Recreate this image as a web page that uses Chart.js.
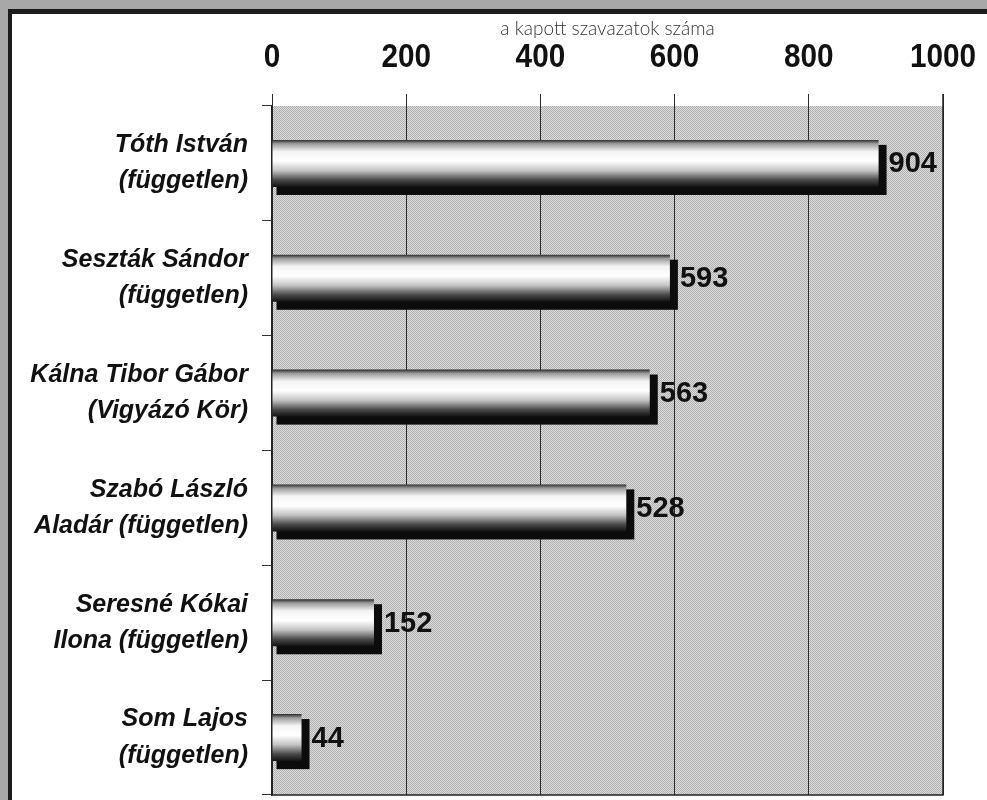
<!DOCTYPE html>
<html>
<head>
<meta charset="utf-8">
<script src="https://cdn.jsdelivr.net/npm/chart.js@4.4.1/dist/chart.umd.min.js"></script>
<style>
  html, body { margin: 0; padding: 0; }
  body { width: 987px; height: 800px; background: #a8a8a8; position: relative; overflow: hidden; }
  #frame {
    position: absolute; left: 8px; top: 9px; width: 979px; height: 791px;
    background: #fff; border-left: 4px solid #1c1c1c; border-top: 5px solid #1c1c1c;
    box-sizing: border-box;
  }
  #wrap { position: absolute; left: 0; top: 0; width: 987px; height: 800px; }
</style>
</head>
<body>
<div id="frame"></div>
<div id="wrap"><canvas id="chart" width="987" height="800"></canvas></div>
<script>
// candidates and votes
const candidates = [
    ["Tóth István", "(független)"],
    ["Seszták Sándor", "(független)"],
    ["Kálna Tibor Gábor", "(Vigyázó Kör)"],
    ["Szabó László", "Aladár (független)"],
    ["Seresné Kókai", "Ilona (független)"],
    ["Som Lajos", "(független)"]
];
const votes = [904, 593, 563, 528, 152, 44];
const xTicks = [0, 200, 400, 600, 800, 1000];
const axisTitle = "a kapott szavazatok száma";

const BAR_PCT = 0.41;

// halftone-like pattern for the plot background
function makePattern(ctx) {
    const p = document.createElement("canvas");
    p.width = 2; p.height = 2;
    const c = p.getContext("2d");
    c.fillStyle = "#dcdcdc"; c.fillRect(0, 0, 2, 2);
    c.fillStyle = "#b0b0b0"; c.fillRect(0, 0, 1, 1); c.fillRect(1, 1, 1, 1);
    return ctx.createPattern(p, "repeat");
}

// cylinder look: dark edges, white middle
function barGradient(c) {
    const chart = c.chart;
    const y = chart.scales.y;
    if (!y || c.dataIndex === undefined) return "#ddd";
    const center = y.getPixelForValue(c.dataIndex);
    const h = (y.bottom - y.top) / candidates.length * BAR_PCT;
    if (!isFinite(center) || !isFinite(h) || h <= 0) return "#ddd";
    const g = chart.ctx.createLinearGradient(0, center - h / 2, 0, center + h / 2);
    g.addColorStop(0, "#2a2a2a");
    g.addColorStop(0.08, "#9a9a9a");
    g.addColorStop(0.25, "#f4f4f4");
    g.addColorStop(0.45, "#ffffff");
    g.addColorStop(0.65, "#c4c4c4");
    g.addColorStop(0.85, "#4a4a4a");
    g.addColorStop(1, "#111");
    return g;
}

const decorPlugin = {
    id: "decor",
    beforeDraw(chart) {
        const { ctx, chartArea: a } = chart;
        ctx.save();
        ctx.fillStyle = makePattern(ctx);
        ctx.fillRect(a.left, a.top, a.right - a.left, a.bottom - a.top);
        ctx.restore();
    },
    beforeDatasetsDraw(chart) {
        // dark shadow / depth behind every bar
        const ctx = chart.ctx;
        const meta = chart.getDatasetMeta(0);
        ctx.save();
        ctx.fillStyle = "#0c0c0c";
        meta.data.forEach(el => {
            const { x, y, base, height } = el.getProps(["x", "y", "base", "height"], true);
            ctx.fillRect(base + 4, y - height / 2 + 5, x - base + 4, height + 3);
        });
        ctx.restore();
    },
    afterDatasetsDraw(chart) {
        const ctx = chart.ctx;
        const meta = chart.getDatasetMeta(0);
        ctx.save();
        ctx.fillStyle = "#111";
        ctx.font = "bold 29px 'Liberation Sans', Arial, sans-serif";
        ctx.textBaseline = "middle";
        ctx.textAlign = "left";
        meta.data.forEach((el, i) => {
            const { x, y } = el.getProps(["x", "y"], true);
            ctx.fillText(votes[i], x + 10, y + 1);
        });
        // bottom and right border of plot
        const a = chart.chartArea;
        ctx.strokeStyle = "#222";
        ctx.lineWidth = 1.5;
        ctx.beginPath();
        ctx.moveTo(a.left, a.bottom);
        ctx.lineTo(a.right, a.bottom);
        ctx.lineTo(a.right, a.top - 12);
        ctx.stroke();
        ctx.restore();
    },
    afterDraw(chart) {
        // condensed bold tick labels on the top axis
        const ctx = chart.ctx;
        const sx = chart.scales.x;
        ctx.save();
        ctx.fillStyle = "#111";
        ctx.font = "bold 33px 'Liberation Sans', Arial, sans-serif";
        ctx.textAlign = "center";
        ctx.textBaseline = "alphabetic";
        sx.ticks.forEach((t, i) => {
            const px = sx.getPixelForTick(i);
            ctx.save();
            ctx.translate(px, 67);
            ctx.scale(0.9, 1);
            ctx.fillText(String(t.value), 0, 0);
            ctx.restore();
        });
        ctx.restore();
    }
};

const chart = new Chart(document.getElementById("chart"), {
    type: "bar",
    data: {
        labels: candidates,
        datasets: [{
            data: votes,
            backgroundColor: barGradient,
            borderWidth: 0,
            categoryPercentage: 1,
            barPercentage: BAR_PCT
        }]
    },
    options: {
        indexAxis: "y",
        responsive: false,
        animation: false,
        layout: { padding: { left: 0, right: 44, top: 0, bottom: 5 } },
        plugins: {
            legend: { display: false },
            tooltip: { enabled: false }
        },
        scales: {
            x: {
                position: "top",
                min: 0,
                max: 1000,
                afterBuildTicks: (s) => { s.ticks = xTicks.map(v => ({ value: v })); },
                afterFit: (s) => { s.height = 106; s.paddingLeft = 0; s.paddingRight = 0; },
                ticks: { display: false },
                grid: { color: "#2a2a2a", lineWidth: 1, tickLength: 12 },
                border: { display: false },
                title: {
                    display: true,
                    text: axisTitle,
                    color: "#333",
                    font: { family: "Lato, 'Open Sans', sans-serif", size: 19, weight: "300" },
                    padding: { top: 17, bottom: 0 }
                }
            },
            y: {
                afterFit: (s) => { s.width = 272; s.paddingTop = 0; s.paddingBottom = 0; },
                grid: { drawOnChartArea: false, offset: true, color: "#333", tickLength: 10 },
                border: { display: true, color: "#222", width: 1.5 },
                ticks: {
                    color: "#111",
                    padding: 14,
                    font: { family: "'Liberation Sans', Arial, sans-serif", size: 25, style: "italic", weight: "bold", lineHeight: 1.45 }
                }
            }
        }
    },
    plugins: [decorPlugin]
});
// second pass so the gradients pick up the laid-out scale
chart.update();
</script>
</body>
</html>
